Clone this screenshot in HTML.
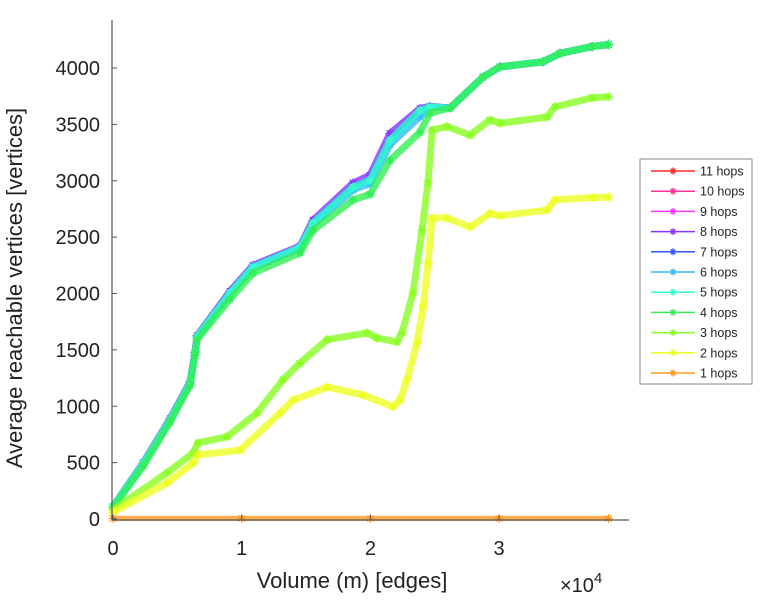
<!DOCTYPE html>
<html><head><meta charset="utf-8"><style>
body{margin:0;background:#fff;}
svg{display:block;font-family:"Liberation Sans",sans-serif;}
</style></head><body>
<svg id="chart" width="768" height="600" viewBox="0 0 768 600" xmlns="http://www.w3.org/2000/svg">
<g id="series"></g>
<g id="axes"></g>
<g id="legend"></g>
</svg>
<script>
const xTicks=[0,10000,20000,30000];
const xTickLabels=["0","1","2","3"];
const yTicks=[0,500,1000,1500,2000,2500,3000,3500,4000];
const seriesNames=["11 hops","10 hops","9 hops","8 hops","7 hops","6 hops","5 hops","4 hops","3 hops","2 hops","1 hops"];
const seriesColors=["#ff2a2a","#ff3399","#ff33ff","#8a33ff","#3355ff","#33bbff","#33ffcc","#33ee55","#88ff22","#eeff22","#ff9922"];
const xTop=[0,2356,4430,5980,6370,6530,9090,10880,14530,15540,18650,19970,21520,23850,24630,26190,28750,30070,33410,34730,37220,38500];
const yTop=[110,495,880,1205,1470,1615,2005,2235,2410,2625,2945,3005,3360,3625,3655,3645,3920,4010,4055,4130,4190,4210];
const y8=[110,500,890,1215,1480,1625,2020,2250,2420,2650,2980,3050,3420,3640,3660,3645,3920,4010,4055,4130,4190,4210];
const y6=[110,490,875,1200,1465,1610,1995,2225,2400,2605,2920,2975,3320,3570,3650,3645,3920,4010,4055,4130,4190,4210];
const y4=[100,470,860,1185,1450,1590,1950,2180,2360,2560,2830,2880,3180,3430,3600,3645,3920,4010,4055,4130,4190,4205];
const x3=[0,4200,6220,6600,8860,11190,13210,14500,16630,19740,20500,22070,22450,23310,24010,24480,24790,25950,27740,29290,30070,33720,34340,37220,38500];
const y3=[80,410,585,675,730,940,1235,1380,1590,1650,1605,1570,1650,2005,2565,2990,3450,3480,3405,3540,3510,3565,3655,3735,3745];
const x2=[0,4200,6220,6600,9870,12980,14000,16630,19430,21760,22300,22840,23620,24090,24480,24790,25950,27740,29290,30070,33720,34340,37220,38500];
const y2=[60,320,495,570,610,940,1055,1170,1100,995,1055,1235,1560,1880,2270,2670,2670,2590,2710,2690,2740,2830,2850,2855];
const x1=[0,10000,20000,30000,38500];
const y1=[5,5,5,5,5];
const seriesX=[xTop,xTop,xTop,xTop,xTop,xTop,xTop,xTop,x3,x2,x1];
const seriesY=[yTop,yTop,yTop,y8,yTop,y6,yTop,y4,y3,y2,y1];

const X0=113,XS=128.7/10000,Y0=519,YS=0.11275;
const sx=v=>X0+v*XS, sy=v=>Y0-v*YS;
const NS="http://www.w3.org/2000/svg";
function mk(t,a,p){const e=document.createElementNS(NS,t);for(const k in a)e.setAttribute(k,a[k]);p.appendChild(e);return e;}
function star(p,x,y,c,r){
  mk("path",{d:`M${x-r},${y}H${x+r}M${x},${y-r}V${y+r}M${x-r*.7},${y-r*.7}L${x+r*.7},${y+r*.7}M${x-r*.7},${y+r*.7}L${x+r*.7},${y-r*.7}`,stroke:c,"stroke-width":1.3,fill:"none"},p);
}
const sg=document.getElementById("series");
seriesNames.forEach((n,i)=>{
  const g=mk("g",{},sg);
  
  
  const xs=seriesX[i],ys=seriesY[i];
  const pts=xs.map((x,j)=>sx(x)+","+sy(ys[j])).join(" ");
  const band=mk("polyline",{points:pts,fill:"none",stroke:seriesColors[i],"stroke-width":i===10?5:7,"stroke-opacity":0.8,"stroke-linejoin":"round"},g);
  
  
  xs.forEach((x,j)=>{
    const m=mk("g",{},g);
    
    
    star(m,sx(x),sy(ys[j]),seriesColors[i],4.5);
  });
});
const ax=document.getElementById("axes");
mk("line",{x1:112,y1:20,x2:112,y2:520,stroke:"#555","stroke-width":1.2},ax);
mk("line",{x1:112,y1:520,x2:629,y2:520,stroke:"#555","stroke-width":1.2},ax);
yTicks.forEach(v=>{
  mk("line",{x1:112,y1:sy(v),x2:117,y2:sy(v),stroke:"#555"},ax);
  const t=mk("text",{x:100,y:sy(v)+7,"text-anchor":"end","font-size":20,fill:"#222"},ax);
  t.textContent=v;
  
  
});
xTicks.forEach((v,i)=>{
  mk("line",{x1:sx(v),y1:520,x2:sx(v),y2:515,stroke:"#555"},ax);
  const t=mk("text",{x:sx(v),y:555,"text-anchor":"middle","font-size":20,fill:"#222"},ax);
  t.textContent=xTickLabels[i];
  
  
});
const xl=mk("text",{x:352,y:588,"text-anchor":"middle","font-size":22,fill:"#222"},ax);
xl.textContent="Volume (m) [edges]";


const ex=mk("text",{x:560,y:592,"font-size":20,fill:"#222"},ax);
ex.innerHTML='×10<tspan dy="-9" font-size="15">4</tspan>';


const yl=mk("text",{x:0,y:0,"text-anchor":"middle","font-size":22,fill:"#222",transform:"translate(22,288) rotate(-90)"},ax);
yl.textContent="Average reachable vertices [vertices]";


const lg=document.getElementById("legend");
mk("rect",{x:640,y:159,width:112,height:225,fill:"#fff",stroke:"#888","stroke-width":1},lg);
seriesNames.forEach((n,i)=>{
  const y=171+i*20.2;
  const e=mk("g",{},lg);
  
  
  mk("line",{x1:651,y1:y,x2:695,y2:y,stroke:seriesColors[i],"stroke-width":1.5},e);
  star(e,673,y,seriesColors[i],3.5);
  const t=mk("text",{x:700,y:y+4.5,"font-size":12.5,fill:"#222"},e);
  t.textContent=n;
});
</script>
</body></html>
